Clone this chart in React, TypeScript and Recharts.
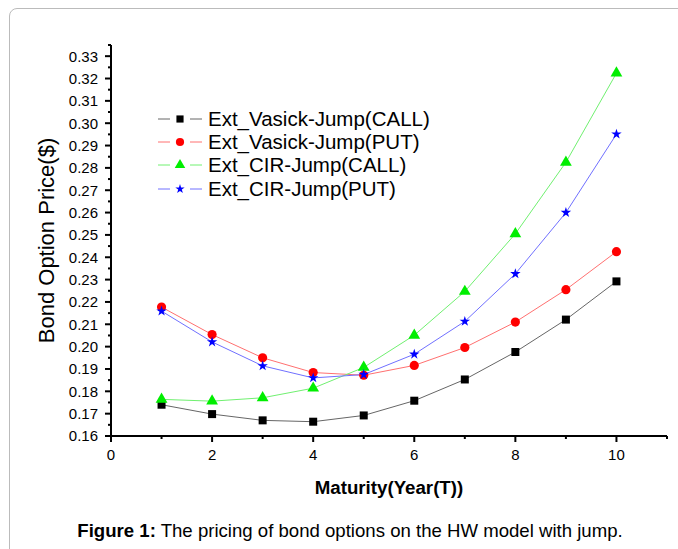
import React from "react";
import { LineChart, Line, XAxis, YAxis, Legend, Label, Symbols } from "recharts";

// maturity in years
const maturity = [1, 2, 3, 4, 5, 6, 7, 8, 9, 10];
const vasicekCall = [0.174, 0.1698, 0.167, 0.1664, 0.1692, 0.1758, 0.1853, 0.1976, 0.2121, 0.2292];
const vasicekPut = [0.2177, 0.2054, 0.195, 0.1884, 0.1872, 0.1916, 0.1996, 0.211, 0.2255, 0.2425];
const cirCall = [0.1764, 0.1756, 0.1771, 0.1814, 0.1907, 0.2051, 0.2247, 0.2505, 0.2825, 0.3224];
const cirPut = [0.2159, 0.2021, 0.1914, 0.186, 0.1875, 0.1966, 0.2113, 0.2326, 0.26, 0.2951];

const yMajor = [0.16, 0.17, 0.18, 0.19, 0.2, 0.21, 0.22, 0.23, 0.24, 0.25, 0.26, 0.27, 0.28, 0.29, 0.3, 0.31, 0.32, 0.33];
const xMajor = [0, 2, 4, 6, 8, 10];

const FONT = "'Liberation Sans', Arial, sans-serif";

const series = [
  { key: "vc", name: "Ext_Vasick-Jump(CALL)", values: vasicekCall, color: "#000000", line: "#666666", shape: "square", size: 64 },
  { key: "vp", name: "Ext_Vasick-Jump(PUT)", values: vasicekPut, color: "#ff0000", line: "#ff7070", shape: "circle", size: 66 },
  { key: "cc", name: "Ext_CIR-Jump(CALL)", values: cirCall, color: "#00ee00", line: "#70f070", shape: "triangle", size: 60 },
  { key: "cp", name: "Ext_CIR-Jump(PUT)", values: cirPut, color: "#0000ff", line: "#7070ff", shape: "star", size: 34 },
];

const data = maturity.map((t, i) => {
  const row: any = { t };
  series.forEach((s) => (row[s.key] = s.values[i]));
  return row;
});

const yTicks = yMajor.flatMap((v) => [v, Math.round((v + 0.005) * 1000) / 1000]);
const xTicks = xMajor.flatMap((v) => [v, v + 1]);

const isMajor = (list: number[], v: number) => list.some((m) => Math.abs(m - v) < 1e-6);

const YTick = (props: any) => {
  const { x, y, payload } = props;
  const major = isMajor(yMajor, payload.value);
  return (
    <g>
      <line x1={x} x2={x - (major ? 6 : 3)} y1={y} y2={y} stroke="#000" strokeWidth={2} />
      {major && (
        <text x={x - 13} y={y} dy="0.36em" textAnchor="end" fontSize={15} fontFamily={FONT} fill="#000">
          {payload.value.toFixed(2)}
        </text>
      )}
    </g>
  );
};

const XTick = (props: any) => {
  const { x, y, payload } = props;
  const major = isMajor(xMajor, payload.value);
  return (
    <g>
      <line x1={x} x2={x} y1={y} y2={y + (major ? 6 : 3)} stroke="#000" strokeWidth={2} />
      {major && (
        <text x={x} y={y + 19} dy="0.36em" textAnchor="middle" fontSize={15} fontFamily={FONT} fill="#000">
          {payload.value}
        </text>
      )}
    </g>
  );
};

const LegendContent = () => (
  <div style={{ fontFamily: FONT, fontSize: 20.5, color: "#000" }}>
    {series.map((s) => (
      <div key={s.key} style={{ display: "flex", alignItems: "center", height: 23.3, whiteSpace: "nowrap" }}>
        <svg width={52} height={20} style={{ display: "block" }}>
          <line x1={2} x2={14} y1={10} y2={10} stroke={s.line} />
          <line x1={34} x2={46} y1={10} y2={10} stroke={s.line} />
          <Symbols cx={24} cy={10} type={s.shape as any} size={s.size * 0.8} fill={s.color} />
        </svg>
        <span>{s.name}</span>
      </div>
    ))}
  </div>
);

export default function App() {
  return (
    <div style={{ position: "absolute", left: 0, top: 0, width: 678, height: 549, overflow: "hidden", background: "#fff" }}>
      <div
        style={{
          position: "absolute",
          left: 9,
          top: 8,
          width: 700,
          height: 600,
          border: "1px solid #bbbbbb",
          borderTopLeftRadius: 8,
        }}
      />
      <div style={{ position: "absolute", left: 0, top: 0 }}>
        <LineChart width={678} height={549} data={data} margin={{ top: 45, right: 11, bottom: 83, left: 0 }}>
          <XAxis
            dataKey="t"
            type="number"
            domain={[0, 11]}
            ticks={xTicks}
            interval={0}
            height={30}
            tickSize={0}
            tickMargin={0}
            tickLine={false}
            axisLine={{ stroke: "#000", strokeWidth: 2 }}
            tick={<XTick />}
          >
            <Label
              content={(p: any) => (
                <text
                  x={p.viewBox.x + p.viewBox.width / 2}
                  y={p.viewBox.y + 51}
                  dy="0.36em"
                  textAnchor="middle"
                  fontSize={18.7}
                  fontWeight="bold"
                  fontFamily={FONT}
                  fill="#000"
                >
                  Maturity(Year(T))
                </text>
              )}
            />
          </XAxis>
          <YAxis
            type="number"
            domain={[0.16, 0.335]}
            allowDataOverflow
            ticks={yTicks}
            interval={0}
            width={111}
            tickSize={0}
            tickMargin={0}
            tickLine={false}
            axisLine={{ stroke: "#000", strokeWidth: 2 }}
            tick={<YTick />}
          >
            <Label
              content={(p: any) => {
                const cx = p.viewBox.x + 46;
                const cy = p.viewBox.y + p.viewBox.height / 2;
                return (
                  <text
                    x={cx}
                    y={cy}
                    transform={`rotate(-90 ${cx} ${cy})`}
                    dy="0.36em"
                    textAnchor="middle"
                    fontSize={22}
                    fontFamily={FONT}
                    fill="#000"
                  >
                    Bond Option Price($)
                  </text>
                );
              }}
            />
          </YAxis>
          <Legend
            layout="vertical"
            align="center"
            verticalAlign="middle"
            content={<LegendContent />}
            wrapperStyle={{ left: 156, top: 107, width: 300 }}
          />
          {series.map((s) => (
            <Line
              key={s.key}
              dataKey={s.key}
              name={s.name}
              type="linear"
              stroke={s.line}
              strokeWidth={1}
              isAnimationActive={false}
              activeDot={false}
              dot={(p: any) => (
                <Symbols key={`${s.key}-${p.index}`} cx={p.cx} cy={p.cy} type={s.shape as any} size={s.size} fill={s.color} />
              )}
            />
          ))}
        </LineChart>
      </div>
      <div
        style={{
          position: "absolute",
          left: 0,
          width: 700,
          top: 520,
          textAlign: "center",
          fontFamily: FONT,
          fontSize: 18.6,
          color: "#000",
          whiteSpace: "nowrap",
        }}
      >
        <b>Figure 1:</b> The pricing of bond options on the HW model with jump.
      </div>
    </div>
  );
}
